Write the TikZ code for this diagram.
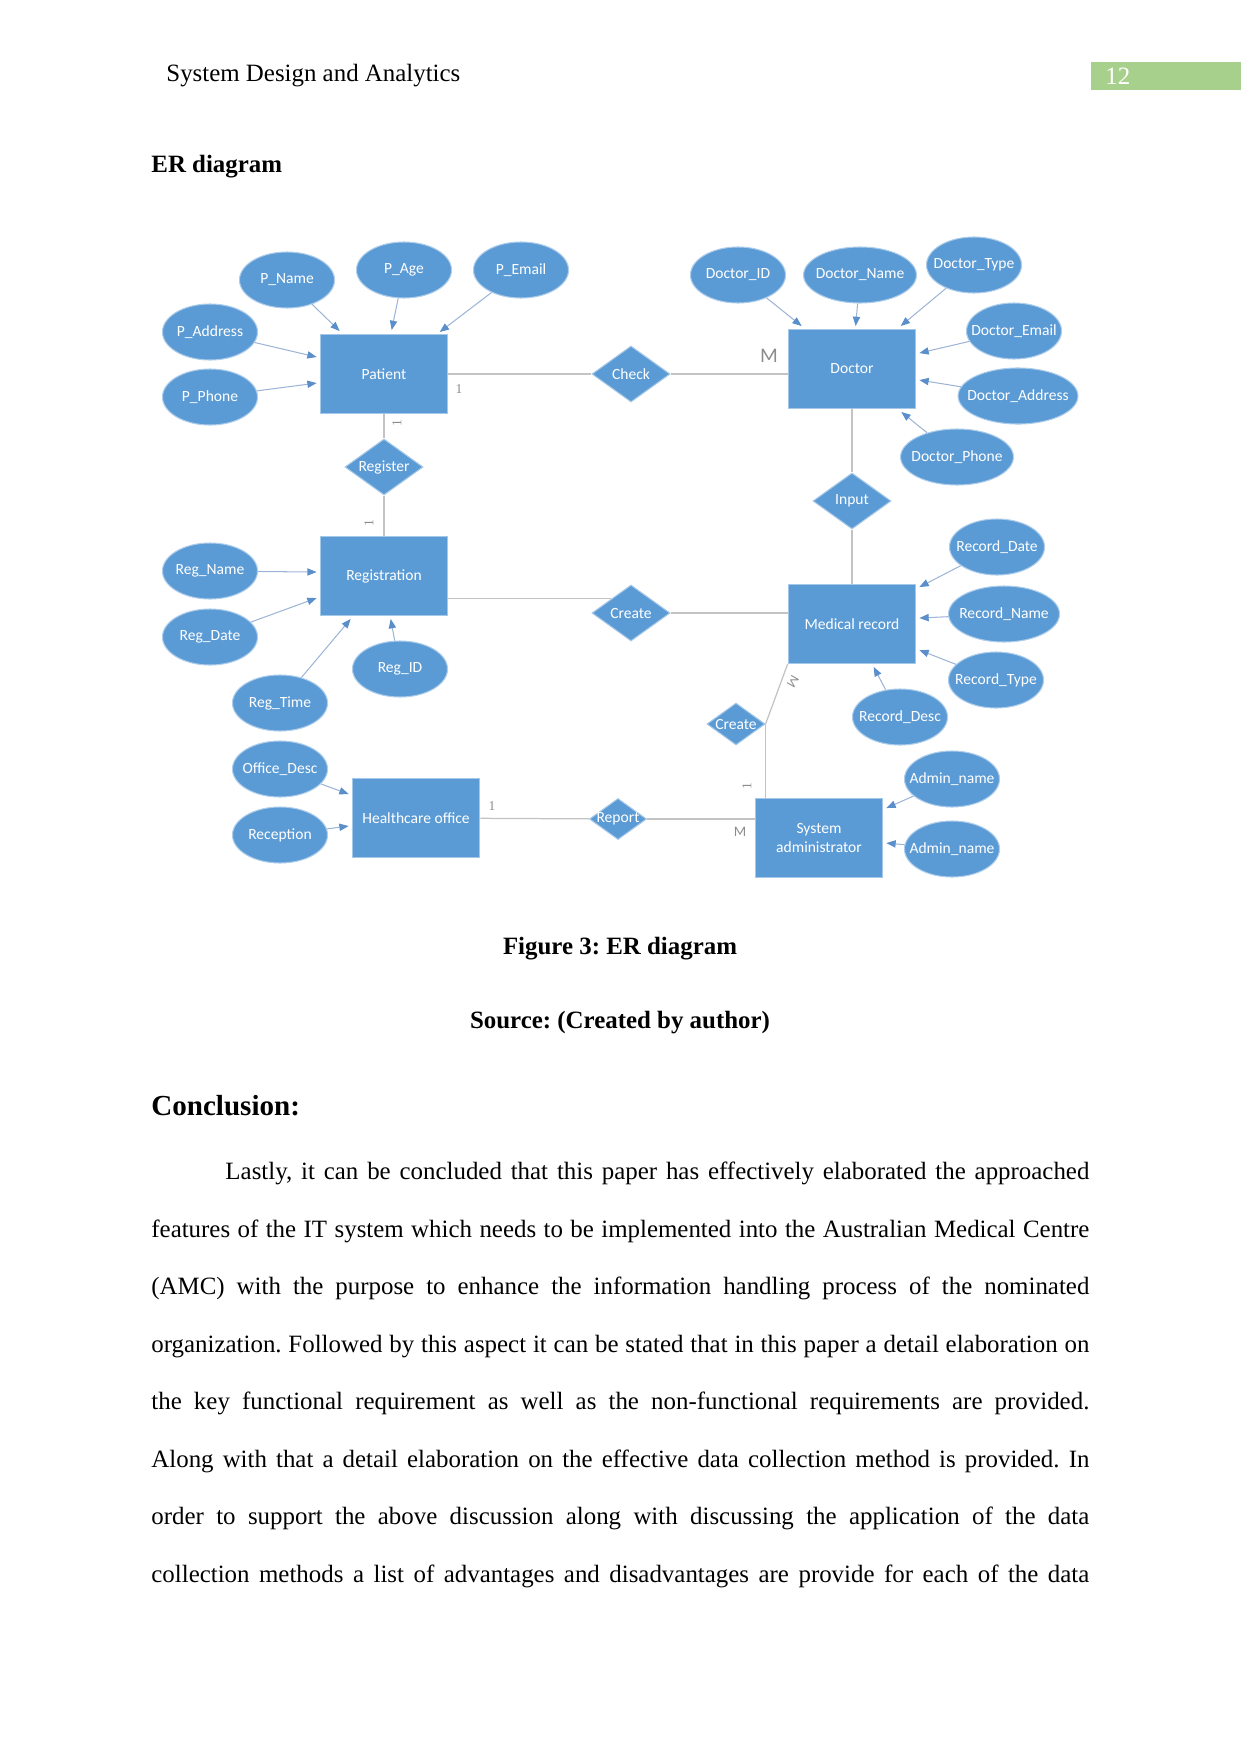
\documentclass[tikz,border=0pt]{standalone}
\usepackage{fontspec}
\setmainfont{Liberation Serif}
\newfontfamily\diafont{Carlito}
\usepackage{xcolor}
\usetikzlibrary{shapes.geometric, arrows.meta, calc}
\frenchspacing

\definecolor{erblue}{HTML}{5B9BD5}
\definecolor{erline}{HTML}{C3C3C3}
\definecolor{attrline}{HTML}{9DB4D6}
\definecolor{tipblue}{HTML}{5B8FCB}
\definecolor{pagegreen}{HTML}{A8D08D}
\definecolor{cardgray}{HTML}{8C8C8C}

% label of zero width, so the shape keeps its own size
\newcommand{\inlab}[1]{\makebox[0pt]{#1}}

\tikzset{
  entity/.style={draw=erblue!55!white, line width=0.5pt, fill=erblue, text=white,
    font=\diafont\fontsize{7.5}{9.6}\selectfont, minimum width=61.5pt, minimum height=38pt,
    inner sep=0pt, align=center},
  attrib/.style={ellipse, draw=erblue!50!white, line width=0.5pt, fill=erblue, text=white,
    font=\diafont\fontsize{7.5}{9}\selectfont, minimum width=45.8pt, minimum height=27pt, inner sep=0pt},
  relate/.style={diamond, draw=erblue!55!white, line width=0.5pt, fill=erblue, text=white,
    font=\diafont\fontsize{7.5}{9}\selectfont, minimum width=37.6pt, minimum height=27pt, inner sep=0pt},
  conn/.style={erline, line width=0.6pt},
  attr/.style={attrline, line width=0.5pt, -{Triangle[length=4.5pt, width=3.5pt, color=tipblue]}},
  card/.style={text=cardgray, font=\fontsize{6.5}{7}\selectfont, inner sep=0pt},
  pagetext/.style={anchor=base west, inner sep=0pt, font=\fontsize{12}{14}\selectfont},
  captext/.style={anchor=base, inner sep=0pt, font=\bfseries\fontsize{12}{14}\selectfont}
}

\begin{document}
\begin{tikzpicture}[x=0.4819pt, y=-0.4819pt]
    \useasboundingbox (0,0) rectangle (1241,1754);

    % page header
    \node[pagetext] (hdr) at (166,81) {System Design and Analytics};
    \fill[pagegreen] (1091,62) rectangle (1241,90);
    \node[anchor=west, inner sep=0pt, text=white, font=\fontsize{12}{14}\selectfont] (pnum) at (1105,76) {12};
    \node[pagetext, font=\bfseries\fontsize{12}{14}\selectfont] (ertitle) at (151,172) {ER diagram};

    % entities
    \node[entity] (patient) at (384,374) {Patient};
    \node[entity] (doctor) at (852,369) {Doctor};
    \node[entity] (registration) at (384,576) {Registration};
    \node[entity] (medrec) at (852,624) {Medical record};
    \node[entity] (office) at (416,818) {Healthcare office};
    \node[entity] (sysadmin) at (819,838) {System\\administrator};

    % relationships
    \node[relate] (check) at (631,374) {\inlab{Check}};
    \node[relate] (register) at (384,467) {\inlab{Register}};
    \node[relate] (input) at (852,501) {\inlab{Input}};
    \node[relate] (create) at (631,613) {\inlab{Create}};
    \node[relate, minimum width=28pt, minimum height=20.2pt] (createadm) at (736,724) {\inlab{Create}};
    \node[relate, minimum width=27.5pt, minimum height=19.8pt] (report) at (618,819) {\inlab{Report}};

    % attributes
    \node[attrib] (pname) at (287,280) {\inlab{P\_Name}};
    \node[attrib] (page) at (404,270) {\inlab{P\_Age}};
    \node[attrib] (pemail) at (521,270) {\inlab{P\_Email}};
    \node[attrib] (paddress) at (210,332) {\inlab{P\_Address}};
    \node[attrib] (pphone) at (210,397) {\inlab{P\_Phone}};
    \node[attrib] (docid) at (738,275) {\inlab{Doctor\_ID}};
    \node[attrib, minimum width=54.4pt] (docname) at (860,275) {\inlab{Doctor\_Name}};
    \node[attrib] (doctype) at (974,265) {\inlab{Doctor\_Type}};
    \node[attrib] (docemail) at (1014,331) {\inlab{Doctor\_Email}};
    \node[attrib, minimum width=57.8pt] (docaddr) at (1018,396) {\inlab{Doctor\_Address}};
    \node[attrib, minimum width=54.4pt] (docphone) at (957,457) {\inlab{Doctor\_Phone}};
    \node[attrib] (regname) at (210,571) {\inlab{Reg\_Name}};
    \node[attrib] (regdate) at (210,637) {\inlab{Reg\_Date}};
    \node[attrib] (regtime) at (280,703) {\inlab{Reg\_Time}};
    \node[attrib] (regid) at (400,669) {\inlab{Reg\_ID}};
    \node[attrib] (recdate) at (997,547) {\inlab{Record\_Date}};
    \node[attrib, minimum width=53.5pt] (recname) at (1004,614) {\inlab{Record\_Name}};
    \node[attrib] (rectype) at (996,680) {\inlab{Record\_Type}};
    \node[attrib] (recdesc) at (900,717) {\inlab{Record\_Desc}};
    \node[attrib] (officedesc) at (280,769) {\inlab{Office\_Desc}};
    \node[attrib] (reception) at (280,835) {\inlab{Reception}};
    \node[attrib] (admina) at (952,779) {\inlab{Admin\_name}};
    \node[attrib] (adminb) at (952,849) {\inlab{Admin\_name}};

    % attribute arrows
    \draw[attr] (pname) -- ($(patient.north west)+(20,-3)$);
    \draw[attr] (page) -- ($(patient.north west)+(72,-4)$);
    \draw[attr] (pemail) -- ($(patient.north west)+(120,-2)$);
    \draw[attr] (paddress) -- ($(patient.north west)+(-3,23)$);
    \draw[attr] (pphone) -- ($(patient.north west)+(-3,49)$);
    \draw[attr] (docid) -- ($(doctor.north west)+(14,-3)$);
    \draw[attr] (docname) -- ($(doctor.north west)+(68,-3)$);
    \draw[attr] (doctype) -- ($(doctor.north west)+(113,-3)$);
    \draw[attr] (docemail) -- ($(doctor.north east)+(3,24)$);
    \draw[attr] (docaddr) -- ($(doctor.north east)+(3,51)$);
    \draw[attr] (docphone) -- ($(doctor.south east)+(-15,3)$);
    \draw[attr] (regname) -- ($(registration.north west)+(-3,36)$);
    \draw[attr] (regdate) -- ($(registration.north west)+(-3,62)$);
    \draw[attr] (regtime) -- ($(registration.south west)+(31,3)$);
    \draw[attr] (regid) -- ($(registration.south west)+(71,3)$);
    \draw[attr] (recdate) -- ($(medrec.north east)+(3,3)$);
    \draw[attr] (recname) -- ($(medrec.north east)+(3,34)$);
    \draw[attr] (rectype) -- ($(medrec.north east)+(3,66)$);
    \draw[attr] (recdesc) -- ($(medrec.south west)+(86,3)$);
    \draw[attr] (officedesc) -- ($(office.north west)+(-3,16)$);
    \draw[attr] (reception) -- ($(office.north west)+(-3,48)$);
    \draw[attr] (admina) -- ($(sysadmin.north east)+(3,10)$);
    \draw[attr] (adminb) -- ($(sysadmin.north east)+(3,45)$);

    % relationship lines
    \draw[conn] (patient) -- (check);
    \draw[conn] (check.east) -- (check.east -| doctor.west);
    \draw[conn] (patient) -- (register);
    \draw[conn] (register) -- (registration);
    \draw[conn] (create.north west -| registration.east) -- (create.north west);
    \draw[conn] (create.east) -- (create.east -| medrec.west);
    \draw[conn] (doctor) -- (input);
    \draw[conn] (input) -- (medrec);
    \draw[conn] (medrec.south west) -- (createadm.east);
    \draw[conn] (createadm.east) -- (createadm.east |- sysadmin.north);
    \draw[conn] (office) -- (report);
    \draw[conn] (report.east) -- (report.east -| sysadmin.west);

    % cardinalities
    \node[card] (cpat) at (459,389) {1};
    \node[card, font=\diafont\fontsize{10}{12}\selectfont] (cdoc) at (769,356) {M};
    \node[card, rotate=90] (cpatreg) at (397,423) {1};
    \node[card, rotate=90] (cregtop) at (369,523) {1};
    \node[card, rotate=240, font=\diafont\fontsize{6.5}{7}\selectfont] (cmed) at (793,682) {M};
    \node[card, rotate=90] (cadmtop) at (747,786) {1};
    \node[card] (coff) at (492,806) {1};
    \node[card, font=\diafont\fontsize{7}{8}\selectfont] (cadm) at (740,832) {M};

    % captions
    \node[captext] (figcap) at (620,954) {Figure 3: ER diagram};
    \node[captext] (srccap) at (620,1028) {Source: (Created by author)};
    \node[pagetext, font=\bfseries\fontsize{14}{16}\selectfont] (concl) at (151,1115) {Conclusion:};

    % body text, one justified line per node
    \node[pagetext] (l1) at (151,1179) {\hbox to 452pt{\hskip 35.7pt Lastly, it can be concluded that this paper has effectively elaborated the approached}};
    \node[pagetext] (l2) at (151,1237) {\hbox to 452pt{features of the IT system which needs to be implemented into the Australian Medical Centre}};
    \node[pagetext] (l3) at (151,1294) {\hbox to 452pt{(AMC) with the purpose to enhance the information handling process of the nominated}};
    \node[pagetext] (l4) at (151,1352) {\hbox to 452pt{organization. Followed by this aspect it can be stated that in this paper a detail elaboration on}};
    \node[pagetext] (l5) at (151,1409) {\hbox to 452pt{the key functional requirement as well as the non-functional requirements are provided.}};
    \node[pagetext] (l6) at (151,1467) {\hbox to 452pt{Along with that a detail elaboration on the effective data collection method is provided. In}};
    \node[pagetext] (l7) at (151,1524) {\hbox to 452pt{order to support the above discussion along with discussing the application of the data}};
    \node[pagetext] (l8) at (151,1582) {\hbox to 452pt{collection methods a list of advantages and disadvantages are provide for each of the data}};
\end{tikzpicture}
\end{document}
